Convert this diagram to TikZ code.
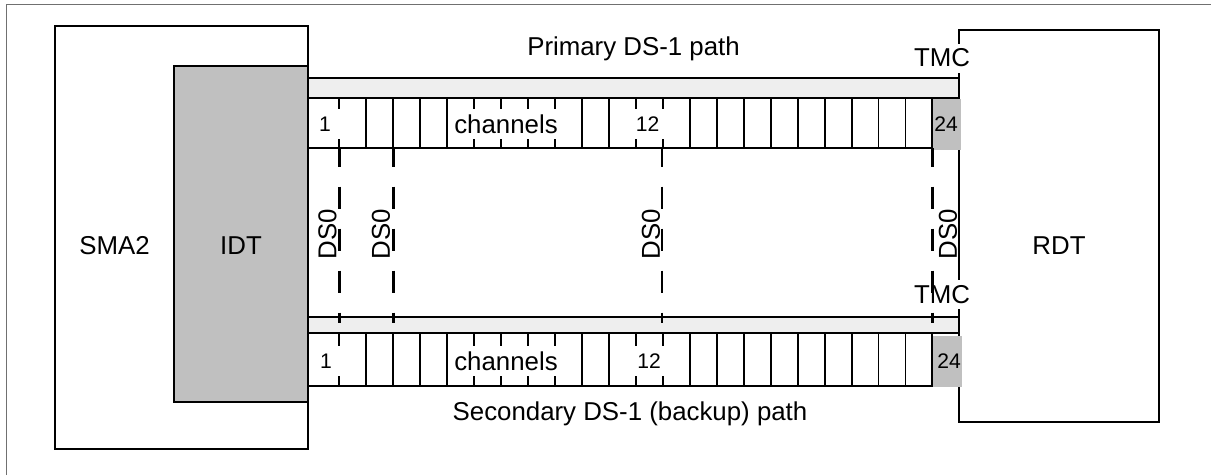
\documentclass[tikz,border=0pt]{standalone}
\usepackage{fontspec}
\setmainfont{Liberation Sans}
\definecolor{boxgray}{HTML}{C0C0C0}
\definecolor{stripgray}{HTML}{EEEEEE}
\definecolor{framegray}{HTML}{707070}

\begin{document}
\begin{tikzpicture}[x=0.2mm,y=-0.2mm,
  box/.style={draw=black,line width=1.2pt},
  lbl/.style={font=\fontsize{14.7}{17}\selectfont,inner sep=0pt},
  chlbl/.style={fill=white,inner sep=0pt,minimum height=6mm},
  small/.style={chlbl,font=\fontsize{12}{14}\selectfont},
  ds0/.style={lbl,rotate=90},
  tmc/.style={lbl,fill=white,minimum height=5.8mm},
  divider/.style={line width=1.1pt},
  dsline/.style={line width=1.6pt,dash pattern=on 4.4mm off 4mm,dash phase=0.72mm}]
\useasboundingbox (0,0) rectangle (1211,475);
\draw[framegray,line width=0.6pt] (6.5,475) -- (6.5,4.5) -- (1211,4.5);

% end units
\draw[box] (55,26) rectangle (308,449);
\node[lbl] (sma) at (114.5,246) {SMA2};
\draw[box,fill=boxgray] (174,66) rectangle (308,401.7);
\node[lbl] (idt) at (241,246) {IDT};
\draw[box] (959,30.3) rectangle (1159.3,422);
\node[lbl] (rdt) at (1059,246) {RDT};

% the two DS-1 paths
\foreach \top/\mid/\bot in {78.3/97.7/148.3, 316.7/333.3/385.7} {
  \draw[line width=1.2pt,fill=stripgray] (308,\top) rectangle (959,\mid);
  \draw[line width=1.2pt] (308,\mid) rectangle (959,\bot);
  \foreach \k in {0,...,22}
    \draw[divider] ({339.3+26.96*\k},\mid) -- ({339.3+26.96*\k},\bot);
}
\fill[boxgray] (932.8,99) rectangle (960.5,149.5);
\fill[boxgray] (933,336) rectangle (961.5,386.5);

% channel labels
\node[small,minimum width=6.4mm] (p1)  at (325,124) {1};
\node[chlbl,lbl,minimum width=22.4mm] (pch) at (506,124) {channels};
\node[small,minimum width=7mm] (p12) at (647.5,124) {12};
\node[font=\fontsize{12}{14}\selectfont,inner sep=0pt] (p24) at (946,124) {24};
\node[small,minimum width=6.4mm] (s1)  at (326,361) {1};
\node[chlbl,lbl,minimum width=22.4mm] (sch) at (506,361) {channels};
\node[small,minimum width=7mm] (s12) at (649,361) {12};
\node[font=\fontsize{12}{14}\selectfont,inner sep=0pt] (s24) at (949,361) {24};

\node[lbl,anchor=base] (prim) at (633.5,55) {Primary DS-1 path};
\node[lbl,anchor=base] (sec) at (630,420) {Secondary DS-1 (backup) path};

\node[tmc] (tmc1) at (942,58) {TMC};
\node[tmc] (tmc2) at (942,294.5) {TMC};

% DS0 timeslots
\foreach \x in {339.3,393.3,662,932.3}
  \draw[dsline] (\x,148.3) -- (\x,323);
\node[ds0] (d1) at (327.5,234) {DS0};
\node[ds0] (d2) at (381,234) {DS0};
\node[ds0] (d3) at (651,234) {DS0};
\node[ds0] (d4) at (948,234) {DS0};
\end{tikzpicture}
\end{document}
